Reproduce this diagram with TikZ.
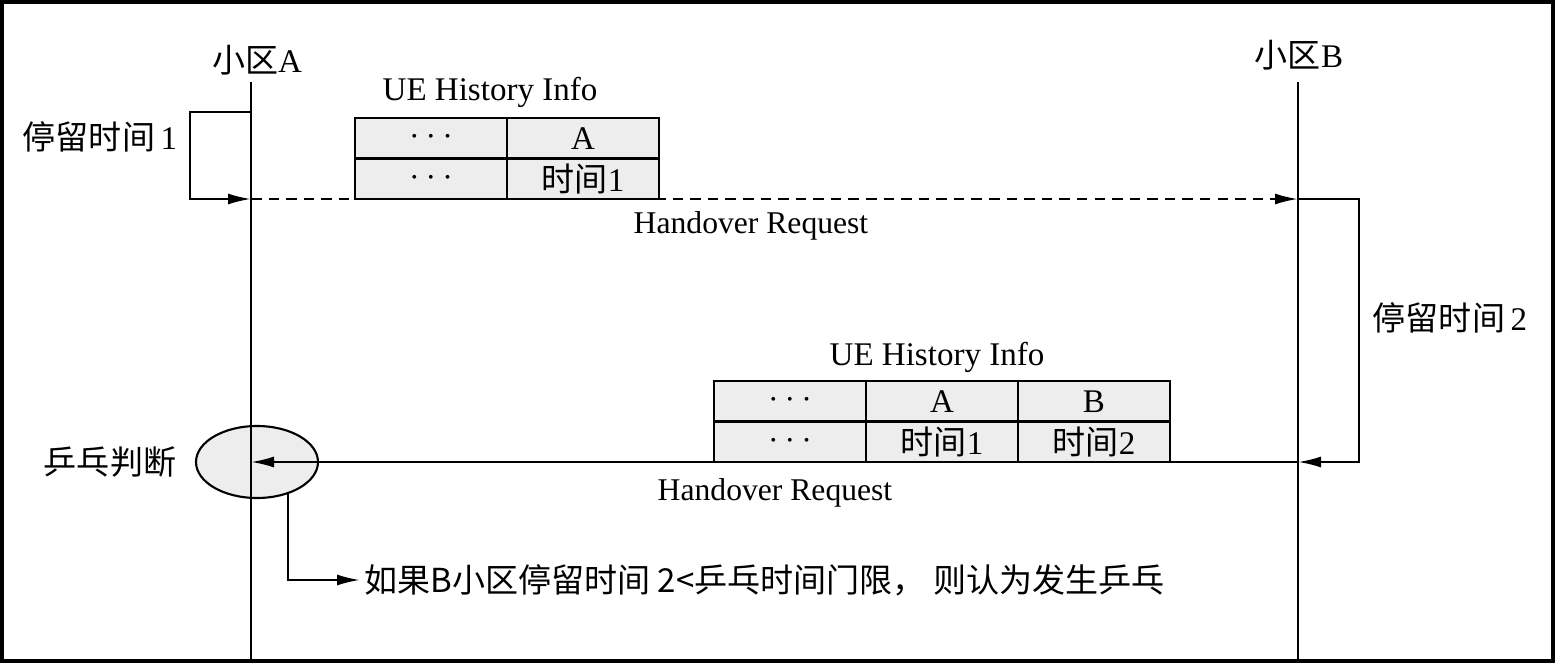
\documentclass[tikz,border=0pt]{standalone}
\usepackage{fontspec}
\setmainfont{Liberation Serif}
\newfontfamily\cjk{Noto Sans CJK SC}
\usepackage{tikz}
\usetikzlibrary{arrows.meta,positioning,shapes.geometric}
\definecolor{cellgray}{HTML}{EDEDED}
\newcommand{\celldots}{{\fontsize{4.5}{5}\selectfont\textbullet\hspace{1.1mm}\textbullet\hspace{1.1mm}\textbullet}}

\begin{document}
\begin{tikzpicture}[>={Latex[length=2.3mm,width=1.1mm]},line width=0.6pt,font=\fontsize{9.4}{11}\selectfont,
  cell/.style={draw,fill=cellgray,minimum width=1.52cm,minimum height=0.405cm,inner sep=0pt,outer sep=0pt},
  msg/.style={->,line width=0.6pt},
  reqlabel/.style={font=\fontsize{9}{11}\selectfont}]
\useasboundingbox (0,0) rectangle (15.55,6.63);
\draw[line width=0.9pt] (0.02,0.02) rectangle (15.53,6.61);
% lifelines
\coordinate (atop) at (2.51,5.81);
\coordinate (abot) at (2.51,0.02);
\coordinate (btop) at (12.98,5.81);
\coordinate (bbot) at (12.98,0.02);
\node (cellA) at (2.57,6.03) {{\cjk 小区}A};
\node (cellB) at (12.99,6.08) {{\cjk 小区}B};
\draw (atop) -- (abot);
\draw (btop) -- (bbot);
\coordinate (a0) at (2.51,5.51);
\coordinate (a1) at (2.51,4.64);
\coordinate (b1) at (12.98,4.64);
\coordinate (b2) at (12.98,2.01);
\coordinate (a2) at (2.51,2.01);
% first request
\node (stay1) at (1.00,5.26) {{\cjk 停留时间}\,1};
\draw[msg] (a0) -- ++(-0.61,0) |- (a1);
\node[cell,anchor=south west] (ta3) at (3.55,4.64) {\celldots};
\node[cell,right=0pt of ta3] (ta4) {{\cjk 时间}1};
\node[cell,above=0pt of ta3] (ta1) {\celldots};
\node[cell,above=0pt of ta4] (ta2) {A};
\node (hist1) at (4.90,5.71) {UE History Info};
\draw[msg,dash pattern=on 3pt off 2pt] (a1) -- (b1);
\node[reqlabel] (req1) at (7.51,4.37) {Handover Request};
% second request
\node (stay2) at (14.50,3.45) {{\cjk 停留时间}\,2};
\draw[msg] (b1) -- ++(0.61,0) |- (b2);
\node[cell,anchor=south west] (tb4) at (7.14,2.01) {\celldots};
\node[cell,right=0pt of tb4] (tb5) {{\cjk 时间}1};
\node[cell,right=0pt of tb5] (tb6) {{\cjk 时间}2};
\node[cell,above=0pt of tb4] (tb1) {\celldots};
\node[cell,above=0pt of tb5] (tb2) {A};
\node[cell,above=0pt of tb6] (tb3) {B};
\node (hist2) at (9.37,3.06) {UE History Info};
\node[ellipse,draw,fill=cellgray,minimum width=1.22cm,minimum height=0.72cm,inner sep=0pt] (ping) at (2.57,2.01) {};
\draw (ping.north -| atop) -- (ping.south -| atop);
\draw[msg] (b2) -- (a2);
\node[reqlabel] (req2) at (7.75,1.70) {Handover Request};
% ping-pong check
\node (judge) at (1.10,2.01) {\cjk 乒乓判断};
\node[anchor=west,inner sep=1pt] (note) at (3.60,0.83) {\cjk 如果B小区停留时间 2<乒乓时间门限， 则认为发生乒乓};
\draw[msg] (ping.-46) |- (note.west);
\end{tikzpicture}
\end{document}
